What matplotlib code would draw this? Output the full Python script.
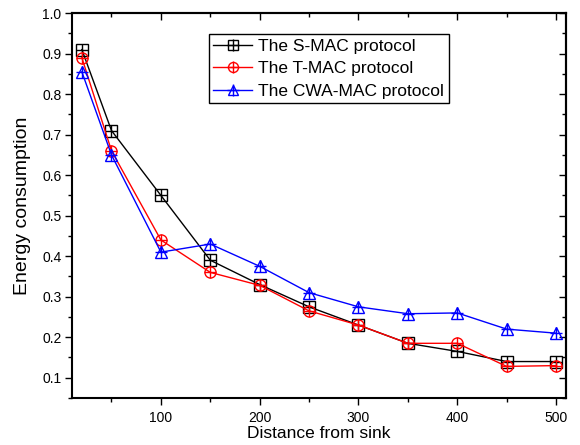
import matplotlib
matplotlib.use('Agg')
import matplotlib.pyplot as plt
from matplotlib.ticker import MultipleLocator

plt.rcParams['font.family'] = ['Liberation Sans', 'DejaVu Sans']

# data
distance = [20, 50, 100, 150, 200, 250, 300, 350, 400, 450, 500]
smac = [0.91, 0.71, 0.55, 0.39, 0.33, 0.275, 0.23, 0.185, 0.165, 0.14, 0.14]
tmac = [0.89, 0.66, 0.44, 0.36, 0.328, 0.265, 0.23, 0.185, 0.185, 0.128, 0.13]
cwamac = [0.855, 0.65, 0.41, 0.43, 0.375, 0.31, 0.275, 0.258, 0.26, 0.22, 0.21]

labels = ['The S-MAC protocol', 'The T-MAC protocol', 'The CWA-MAC protocol']
colors = ['black', 'red', 'blue']
markers = ['s', 'o', '^']

fig = plt.figure(figsize=(5.8, 4.45), dpi=100)
ax = fig.add_axes([0.1241, 0.1056, 0.8517, 0.865])

handles = []
for ys, c, m in zip([smac, tmac, cwamac], colors, markers):
    l1, = ax.plot(distance, ys, color=c, lw=1, marker=m, ms=8,
                  mfc='none', mec=c, mew=1)
    l2, = ax.plot(distance, ys, ls='none', marker='+', ms=9, mec=c, mew=1)
    handles.append((l1, l2))

ax.set_xlim(10, 510)
ax.set_ylim(0.05, 1.0)
ax.xaxis.set_major_locator(MultipleLocator(100))
ax.xaxis.set_minor_locator(MultipleLocator(50))
ax.yaxis.set_major_locator(MultipleLocator(0.1))
ax.yaxis.set_minor_locator(MultipleLocator(0.05))
ax.tick_params(which='both', direction='out', labelsize=10, pad=2.5)
ax.tick_params(axis='x', pad=4)
ax.tick_params(which='major', length=5, width=1)
ax.tick_params(which='minor', length=3, width=1)
# top/right ticks point inward, without labels
ax2 = ax.secondary_xaxis('top')
ax2.xaxis.set_major_locator(MultipleLocator(100))
ax2.xaxis.set_minor_locator(MultipleLocator(50))
ax2.tick_params(which='both', direction='in', labeltop=False, width=1)
ax2.tick_params(which='major', length=5)
ax2.tick_params(which='minor', length=3)
ay2 = ax.secondary_yaxis('right')
ay2.yaxis.set_major_locator(MultipleLocator(0.1))
ay2.yaxis.set_minor_locator(MultipleLocator(0.05))
ay2.tick_params(which='both', direction='in', labelright=False, width=1)
ay2.tick_params(which='major', length=5)
ay2.tick_params(which='minor', length=3)
for s in list(ax.spines.values()) + [ax2.spines['top'], ay2.spines['right']]:
    s.set_linewidth(1.5)

ax.set_xlabel('Distance from sink', fontsize=12.5, labelpad=1)
ax.set_ylabel('Energy consumption', fontsize=14, labelpad=8)

leg = ax.legend(handles, labels, loc='upper left', bbox_to_anchor=(0.277, 0.945),
                fontsize=12.5, fancybox=False, edgecolor='black', framealpha=1,
                handlelength=2.25, handletextpad=0.35, borderpad=0.25,
                labelspacing=0.42, borderaxespad=0, markerscale=0.9)
leg.get_frame().set_linewidth(1)

fig.savefig('out.png', dpi=100)
